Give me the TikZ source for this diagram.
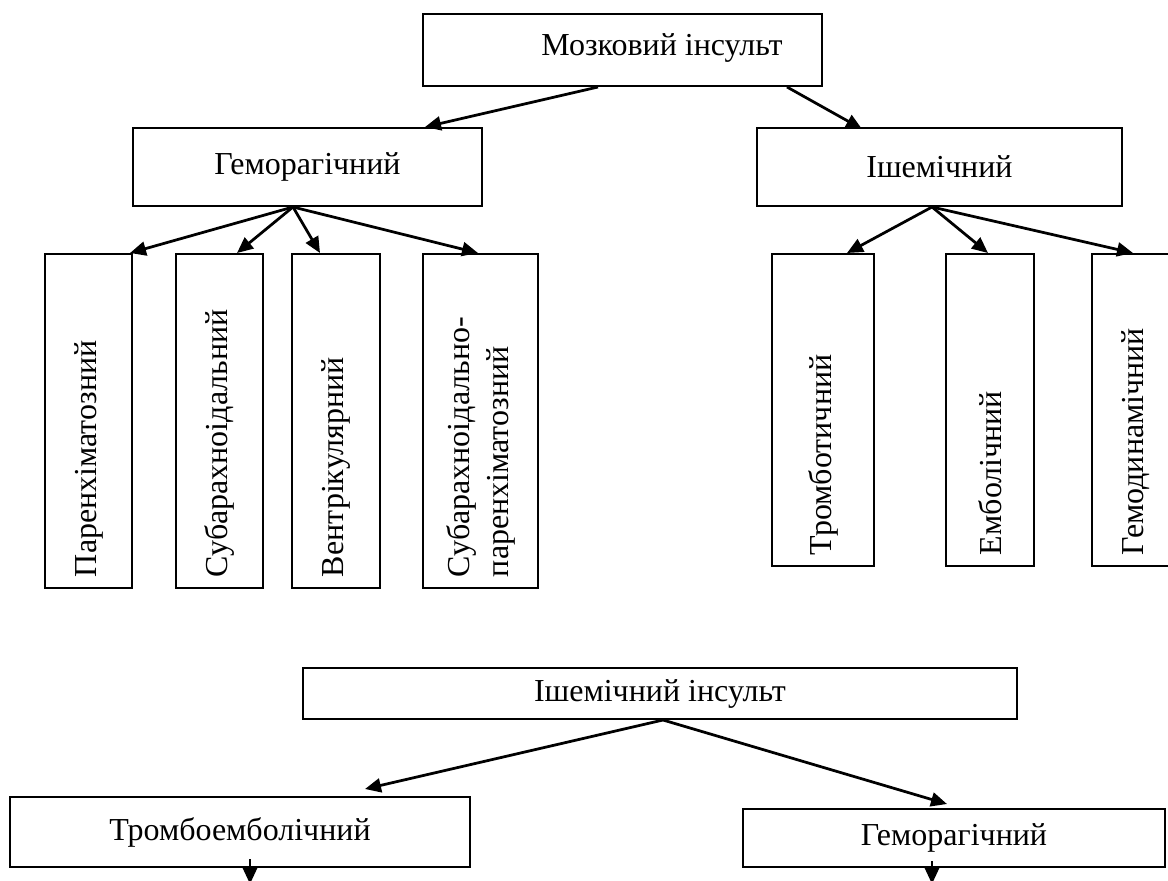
\documentclass[tikz,border=0pt]{standalone}
\usepackage{fontspec}
\setmainfont{Liberation Serif}
\usetikzlibrary{arrows.meta,calc}

\begin{document}
\begin{tikzpicture}[
  x=0.4pt, y=-0.4pt,
  font=\fontsize{12.8}{14.6}\selectfont,
  box/.style={draw, line width=0.8pt, inner sep=0pt},
  vbox/.style={draw, line width=0.8pt, rotate=90, align=left, inner ysep=0pt, inner xsep=4.4pt},
  ar/.style={-{Triangle[length=6.4pt,width=5.6pt]}, line width=1.1pt}
]
\useasboundingbox (0,0) rectangle (1168,881);

% upper scheme
\node[box, minimum width=159.6pt, minimum height=28.8pt] (brain) at (622.5,50) {};
\node[inner sep=0pt] (brainlbl) at (662,48) {Мозковий інсульт};
\node[box, minimum width=139.6pt, minimum height=31.2pt] (gem) at (307.5,167) {Геморагічний};
\node[box, minimum width=146pt, minimum height=31.2pt] (isc) at (939.5,167) {Ішемічний};

% vertical boxes, left
\node[vbox, text width=124.8pt, minimum height=34.8pt] (par) at (88.5,421) {Паренхіматозний};
\node[vbox, text width=124.8pt, minimum height=34.8pt] (sub) at (219.5,421) {Субарахноідальний};
\node[vbox, text width=124.8pt, minimum height=35.2pt] (ven) at (336,421) {Вентрікулярний};
\node[vbox, text width=124.8pt, minimum height=46pt] (subpar) at (480.5,421) {Субарахноідально-\\[1pt]паренхіматозний};

% vertical boxes, right
\node[vbox, text width=116pt, minimum height=40.8pt] (tro) at (823,410) {Тромботичний};
\node[vbox, text width=116pt, minimum height=35.2pt] (emb) at (990,410) {Емболічний};
\node[vbox, text width=116pt, minimum height=35.2pt] (hdyn) at (1136,410) {Гемодинамічний};

\draw[ar] ($(brain.south)+(-24.5,0)$) -- ($(gem.north)+(117.5,0)$);
\draw[ar] ($(brain.south)+(164.5,0)$) -- ($(isc.north)+(-77.5,2)$);

\draw[ar] ($(gem.south)+(-14.5,0)$) -- ($(par.east)+(41.5,0)$);
\draw[ar] ($(gem.south)+(-14.5,0)$) -- ($(sub.east)+(17.5,0)$);
\draw[ar] ($(gem.south)+(-14.5,0)$) -- ($(ven.east)+(-16,0)$);
\draw[ar] ($(gem.south)+(-14.5,0)$) -- ($(subpar.east)+(-2.5,0)$);

\draw[ar] ($(isc.south)+(-7.5,0)$) -- ($(tro.east)+(24,0)$);
\draw[ar] ($(isc.south)+(-7.5,0)$) -- ($(emb.east)+(-2,0)$);
\draw[ar] ($(isc.south)+(-7.5,0)$) -- ($(hdyn.east)+(-3,0)$);

% lower scheme
\node[box, minimum width=285.6pt, minimum height=20.4pt] (ischins) at (660,693.5) {Ішемічний інсульт};
\node[box, minimum width=184pt, minimum height=28pt] (tromb) at (240,832) {Тромбоемболічний};
\node[box, minimum width=168.8pt, minimum height=23.2pt] (hem) at (954,838) {Геморагічний};
\coordinate (trombout) at (250,884);
\coordinate (hemout) at (932,884);

\draw[ar] ($(ischins.south)+(3,0)$) -- ($(tromb.north)+(125,-7)$);
\draw[ar] ($(ischins.south)+(3,0)$) -- ($(hem.north)+(-7,-4)$);
\draw[ar] ($(tromb.south)+(10,-9)$) -- (trombout);
\draw[ar] ($(hem.south)+(-22,-7)$) -- (hemout);
\end{tikzpicture}
\end{document}
